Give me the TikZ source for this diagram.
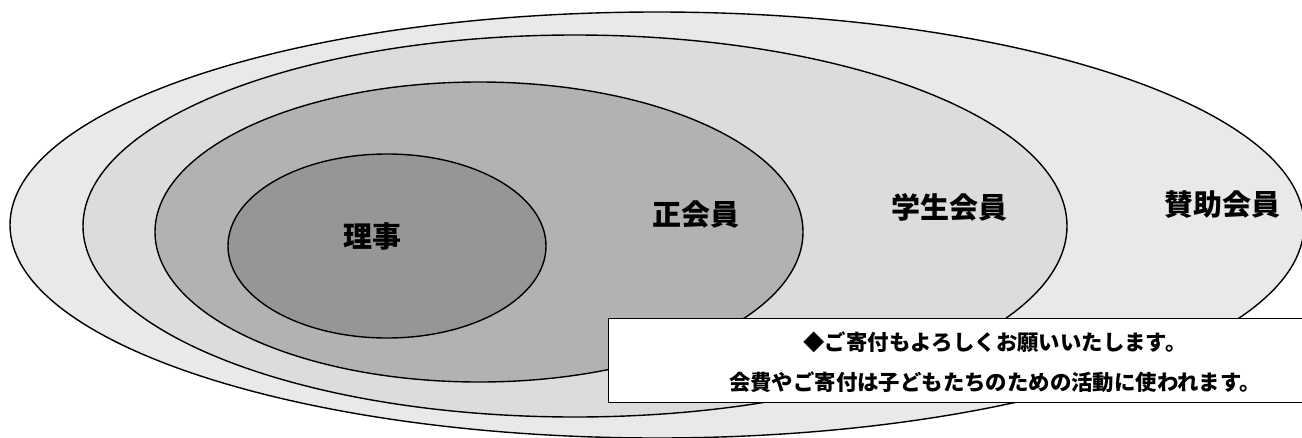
\documentclass[tikz,border=0pt]{standalone}
\usepackage{fontspec}
\setmainfont{Noto Sans CJK JP}
\usepackage{tikz}
\usetikzlibrary{shapes,positioning}

\definecolor{fillSJ}{HTML}{E9E9E9}
\definecolor{fillGK}{HTML}{DCDCDC}
\definecolor{fillSK}{HTML}{B2B2B2}
\definecolor{fillRJ}{HTML}{969696}

\tikzset{ring/.style={draw, ellipse, line width=1.4pt, inner sep=0pt},
         lbl/.style={font=\fontsize{29}{29}\selectfont\bfseries},
         msg/.style={font=\fontsize{21.4}{21.4}\selectfont\bfseries}}

\begin{document}
\begin{tikzpicture}[x=1pt,y=-1pt]
\useasboundingbox (0,0) rectangle (1302,437);
\fill[white] (0,0) rectangle (1302,437);

\node[ring, fill=fillSJ, minimum width=1294pt, minimum height=426pt] (SJ) at (657,225) {};
\node[ring, fill=fillGK, minimum width=984pt, minimum height=382pt] (GK) at (575,226) {};
\node[ring, fill=fillSK, minimum width=648pt, minimum height=300pt] (SK) at (479,232) {};
\node[ring, fill=fillRJ, minimum width=318pt, minimum height=184pt] (RJ) at (387,246) {};

\node[lbl] (RJt) at (372,237) {理事};
\node[lbl] (SKt) at (696,215) {正会員};
\node[lbl] (GKt) at (949,207) {学生会員};
\node[lbl] (SJt) at (1222,205) {賛助会員};

%\draw[red] (0,0) grid (1302,437);
\node[draw, fill=white, line width=1.4pt, inner sep=0pt, anchor=north west,
      minimum width=782pt, minimum height=84pt] (KF) at (608,318) {};
\node[msg] (KFa) at (995,342) {◆ご寄付もよろしくお願いいたします。};
\node[msg] (KFb) at (995,382) {会費やご寄付は子どもたちのための活動に使われます。};

\end{tikzpicture}
\end{document}
